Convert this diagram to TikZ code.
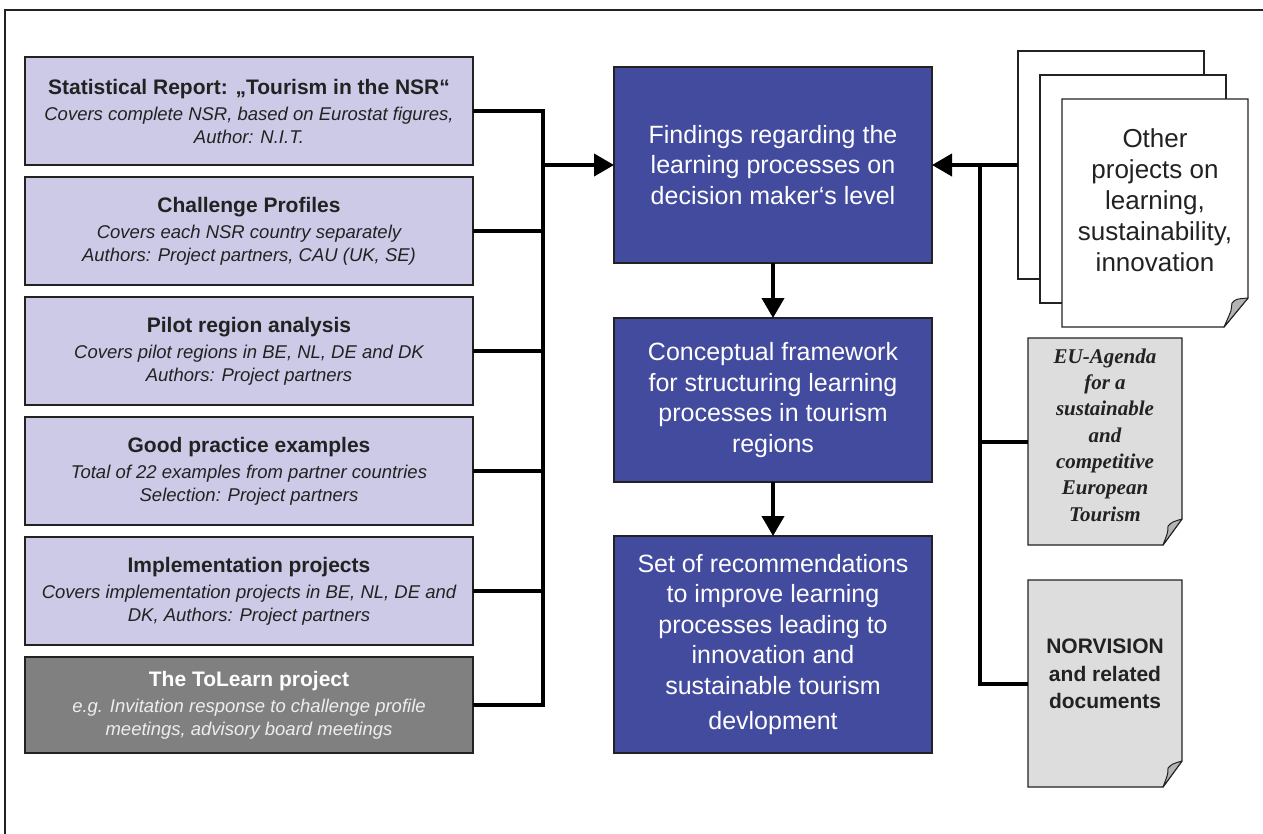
\documentclass[tikz,border=0pt]{standalone}
\usepackage{fontspec}
\setmainfont{Liberation Sans}
\newfontfamily\serifface{Liberation Serif}
\usetikzlibrary{arrows.meta}

\definecolor{lav}{RGB}{204,202,230}
\definecolor{navy}{RGB}{67,75,159}
\definecolor{slate}{RGB}{128,128,128}
\definecolor{paper}{RGB}{221,221,221}
\definecolor{curlgray}{RGB}{180,180,180}
\definecolor{ink}{RGB}{34,34,34}
\definecolor{pale}{RGB}{238,238,238}

\newcommand\boxtitle[1]{{\upshape\bfseries\fontsize{21}{25}\selectfont #1}}

% page with a curled lower right corner: node, fill, dx, dy, curl x, curl y
\newcommand\foldpage[6]{%
  \filldraw[fill=#2, draw=ink, line width=1.2pt, line join=miter]
    (#1.north west) -- (#1.north east) -- ([yshift=#4]#1.south east)
    -- ([xshift=-#3]#1.south east) -- (#1.south west) -- cycle;
  \filldraw[fill=curlgray, draw=ink, line width=1pt, line join=round]
    ([xshift=-#3]#1.south east) -- ([yshift=#4]#1.south east)
    .. controls ([xshift=-#5+4pt,yshift=#6+4pt]#1.south east) .. ([xshift=-#5,yshift=#6]#1.south east)
    .. controls ([xshift=-#5,yshift=#6-6pt]#1.south east) .. ([xshift=-#3]#1.south east) -- cycle;
}

\tikzset{
  x=1pt, y=-1pt,
  every node/.style={inner sep=0pt, outer sep=0pt},
  srcbox/.style={draw=ink, line width=1.3pt, fill=lav, minimum width=448pt,
    minimum height=108pt, align=center, text=ink,
    font=\fontsize{18.5}{22.5}\selectfont\itshape},
  stage/.style={draw=ink, line width=1.2pt, fill=navy, text=white,
    minimum width=318pt, align=center, font=\fontsize{25}{30.5}\selectfont},
  sheet/.style={minimum width=186pt, minimum height=228pt},
  smallsheet/.style={minimum width=154pt, minimum height=207pt},
  conn/.style={line width=4pt, black, line join=miter},
  feed/.style={conn, -{Triangle[length=20pt,width=22pt]}},
}

\begin{document}
\begin{tikzpicture}
\useasboundingbox (0,0) rectangle (1263,834);
\fill[white] (0,0) rectangle (1263,834);

% outer frame
\draw[ink, line width=2pt] (5,860) -- (5,10) -- (1290,10);

% sources on the left
\node[srcbox] (s1) at (249,111) {\boxtitle{Statistical Report: „Tourism in the NSR“}\\[4pt]
  Covers complete NSR, based on Eurostat figures,\\ Author: N.I.T.};
\node[srcbox] (s2) at (249,231) {\boxtitle{Challenge Profiles}\\[4pt]
  Covers each NSR country separately\\ Authors: Project partners, CAU (UK, SE)};
\node[srcbox] (s3) at (249,351) {\boxtitle{Pilot region analysis}\\[4pt]
  Covers pilot regions in BE, NL, DE and DK\\ Authors: Project partners};
\node[srcbox] (s4) at (249,471) {\boxtitle{Good practice examples}\\[4pt]
  Total of 22 examples from partner countries\\ Selection: Project partners};
\node[srcbox] (s5) at (249,591) {\boxtitle{Implementation projects}\\[4pt]
  Covers implementation projects in BE, NL, DE and\\ DK, Authors: Project partners};
\node[srcbox, fill=slate, text=pale, minimum height=96pt] (s6) at (249,705)
  {\boxtitle{\color{white}The ToLearn project}\\[4pt]
  e.g. Invitation response to challenge profile\\ meetings, advisory board meetings};

% central chain
\node[stage, minimum height=196pt] (fA) at (773,165)
  {Findings regarding the\\ learning processes on\\ decision maker‘s level};
\node[stage, minimum height=164pt] (fB) at (773,400)
  {Conceptual framework\\ for structuring learning\\ processes in tourism\\ regions};
\node[stage, minimum height=217pt] (fC) at (773,644.5)
  {Set of recommendations\\ to improve learning\\ processes leading to\\ innovation and\\ sustainable tourism\\[5pt] devlopment};

% documents on the right
\node[sheet] (p1) at (1111,165) {};
\node[sheet] (p2) at (1133,189) {};
\node[sheet] (p3) at (1155,213) {};
\filldraw[fill=white, draw=ink, line width=1.2pt] (p1.north west) rectangle (p1.south east);
\filldraw[fill=white, draw=ink, line width=1.2pt] (p2.north west) rectangle (p2.south east);
\foldpage{p3}{white}{24pt}{29pt}{16pt}{24pt}
\node[align=center, font=\fontsize{26}{31}\selectfont, text=ink] (p3txt) at (1155,200)
  {Other\\ projects on\\ learning,\\ sustainability,\\ innovation};

\node[smallsheet] (eu) at (1105,441.5) {};
\foldpage{eu}{paper}{19pt}{26pt}{14pt}{19pt}
\node[align=center, font=\serifface\bfseries\itshape\fontsize{21}{26.3}\selectfont, text=ink] (eutxt) at (1105,435)
  {EU-Agenda\\ for a\\ sustainable\\ and\\ competitive\\ European\\ Tourism};

\node[smallsheet] (nor) at (1105,683.5) {};
\foldpage{nor}{paper}{19pt}{26pt}{14pt}{19pt}
\node[align=center, font=\bfseries\fontsize{21}{27.5}\selectfont, text=ink] (nortxt) at (1105,674)
  {NORVISION\\ and related\\ documents};

% connectors
\coordinate (lbus) at (543,0);
\coordinate (rbus) at (980,0);
\draw[conn] (s1.east) -- (s1.east -| lbus) -- (s6.east -| lbus) -- (s6.east);
\foreach \s in {s2,s3,s4,s5} \draw[conn] (\s.east) -- (\s.east -| lbus);
\draw[feed] (fA.west -| lbus) -- (fA.west);

\draw[feed] (fA.south) -- (fB.north);
\draw[feed] (fB.south) -- (fC.north);

\draw[feed] (fA.east -| p1.west) -- (fA.east);
\draw[conn] (fA.east -| rbus) -- (nor.west -| rbus) -- (nor.west);
\draw[conn] (eu.west -| rbus) -- (eu.west);
\end{tikzpicture}
\end{document}
